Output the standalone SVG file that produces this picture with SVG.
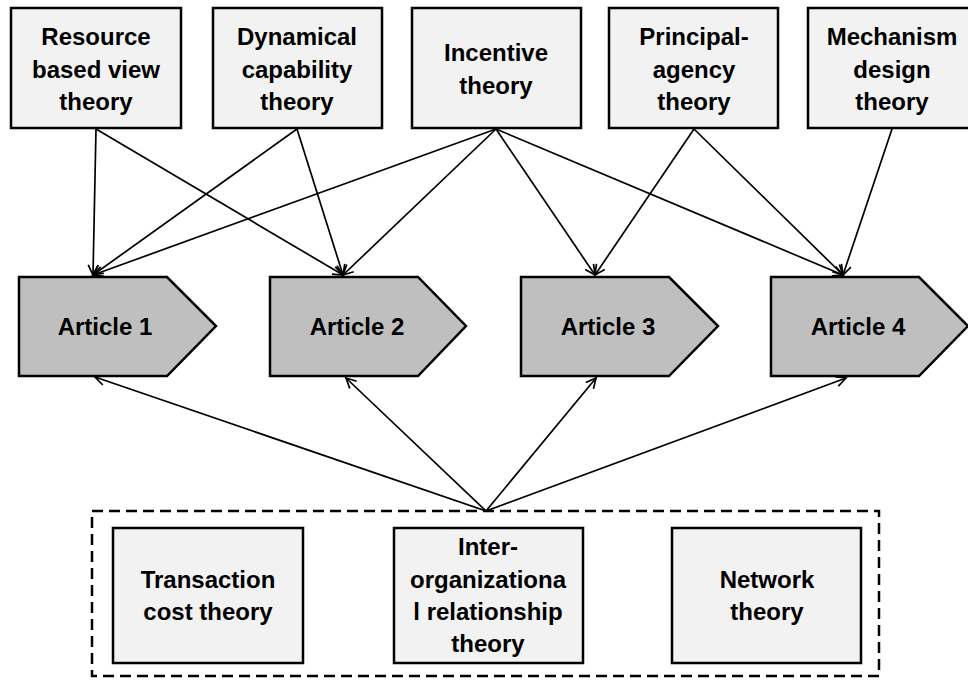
<svg xmlns="http://www.w3.org/2000/svg" width="968" height="681" viewBox="0 0 968 681">
  <style>
    .theory rect { fill: #f2f2f2; stroke: #000; stroke-width: 2.5; }
    .article path { fill: #bfbfbf; stroke: #000; stroke-width: 2.5; stroke-linejoin: miter; }
    text { font-family: "Liberation Sans", Arial, sans-serif; font-weight: bold; font-size: 24px; fill: #000; text-anchor: middle; }
    .conn line { stroke: #000; stroke-width: 1.7; marker-end: url(#arrow); }
    .group { fill: none; stroke: #000; stroke-width: 2.5; stroke-dasharray: 11 6; }
  </style>
  <defs>
    <marker id="arrow" markerUnits="userSpaceOnUse" markerWidth="14" markerHeight="14" viewBox="0 0 14 14" refX="12" refY="7" orient="auto">
      <path d="M2,2 L12,7 L2,12" fill="none" stroke="#000" stroke-width="1.7"/>
    </marker>
  </defs>

  <rect width="968" height="681" fill="#fff"/>

  <!-- connectors -->
  <g id="connectors" class="conn">
    <line x1="96" y1="129" x2="93" y2="275"/>
    <line x1="96" y1="129" x2="343" y2="275"/>
    <line x1="297" y1="129" x2="93" y2="275"/>
    <line x1="297" y1="129" x2="343" y2="275"/>
    <line x1="496" y1="129" x2="93" y2="275"/>
    <line x1="496" y1="129" x2="343" y2="275"/>
    <line x1="496" y1="129" x2="595" y2="275"/>
    <line x1="496" y1="129" x2="843" y2="275"/>
    <line x1="694" y1="129" x2="595" y2="275"/>
    <line x1="694" y1="129" x2="843" y2="275"/>
    <line x1="892" y1="129" x2="843" y2="275"/>
    <line x1="486" y1="511" x2="95" y2="377"/>
    <line x1="486" y1="511" x2="346" y2="378"/>
    <line x1="486" y1="511" x2="596" y2="378"/>
    <line x1="486" y1="511" x2="846" y2="378"/>
  </g>

  <!-- top row: theories -->
  <g id="resource-based-view" class="theory">
    <rect x="11" y="8" width="170" height="120"/>
    <text x="96" y="45">Resource</text>
    <text x="96" y="78">based view</text>
    <text x="96" y="110">theory</text>
  </g>
  <g id="dynamical-capability" class="theory">
    <rect x="213" y="8" width="169" height="120"/>
    <text x="297" y="45">Dynamical</text>
    <text x="297" y="78">capability</text>
    <text x="297" y="110">theory</text>
  </g>
  <g id="incentive" class="theory">
    <rect x="412" y="8" width="169" height="120"/>
    <text x="496" y="61">Incentive</text>
    <text x="496" y="94">theory</text>
  </g>
  <g id="principal-agency" class="theory">
    <rect x="609" y="8" width="169" height="120"/>
    <text x="694" y="45">Principal-</text>
    <text x="694" y="78">agency</text>
    <text x="694" y="110">theory</text>
  </g>
  <g id="mechanism-design" class="theory">
    <rect x="808" y="8" width="169" height="120"/>
    <text x="892" y="45">Mechanism</text>
    <text x="892" y="78">design</text>
    <text x="892" y="110">theory</text>
  </g>

  <!-- middle row: articles -->
  <g id="article-1" class="article">
    <path d="M19,277 H167 L216,326 L167,376 H19 Z"/>
    <text x="105" y="335">Article 1</text>
  </g>
  <g id="article-2" class="article">
    <path d="M270,277 H418 L466,326 L418,376 H270 Z"/>
    <text x="357" y="335">Article 2</text>
  </g>
  <g id="article-3" class="article">
    <path d="M521,277 H669 L718,326 L669,376 H521 Z"/>
    <text x="608" y="335">Article 3</text>
  </g>
  <g id="article-4" class="article">
    <path d="M771,277 H919 L968,326 L919,376 H771 Z"/>
    <text x="858" y="335">Article 4</text>
  </g>

  <!-- bottom group of theories -->
  <rect id="relation-theories" class="group" x="92" y="511" width="787" height="165"/>
  <g id="transaction-cost" class="theory">
    <rect x="113" y="528" width="190" height="135"/>
    <text x="208" y="588">Transaction</text>
    <text x="208" y="620">cost theory</text>
  </g>
  <g id="inter-organizational" class="theory">
    <rect x="394" y="528" width="189" height="135"/>
    <text x="488" y="555">Inter-</text>
    <text x="488" y="588">organizationa</text>
    <text x="488" y="620">l relationship</text>
    <text x="488" y="652">theory</text>
  </g>
  <g id="network" class="theory">
    <rect x="672" y="528" width="189" height="135"/>
    <text x="767" y="588">Network</text>
    <text x="767" y="620">theory</text>
  </g>
</svg>
